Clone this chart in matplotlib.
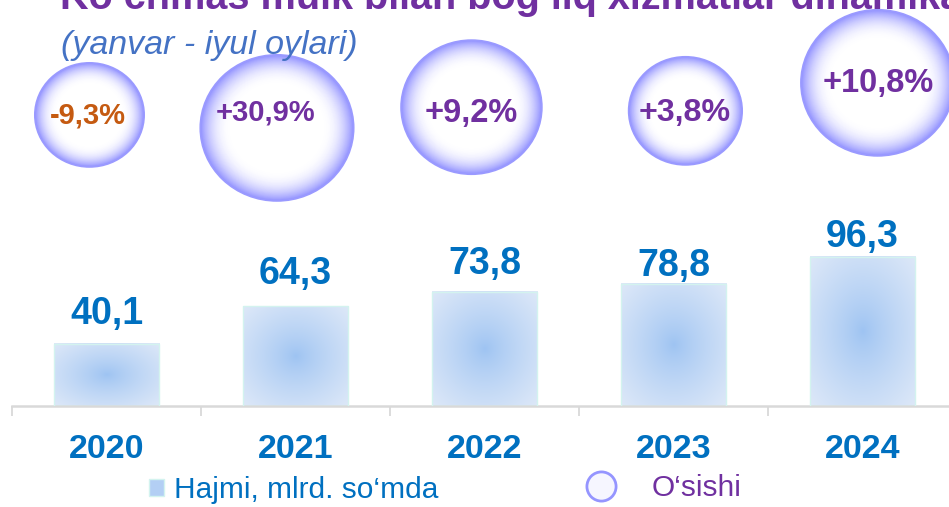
import numpy as np
import matplotlib
matplotlib.use('Agg')
import matplotlib.pyplot as plt
import matplotlib.transforms as mtransforms
from matplotlib.patches import Ellipse, Patch
from matplotlib.lines import Line2D

plt.rcParams['font.family'] = ['Liberation Sans', 'DejaVu Sans']

years = ['2020', '2021', '2022', '2023', '2024']
volume = [40.1, 64.3, 73.8, 78.8, 96.3]     # mlrd. so'm
growth = [-9.3, 30.9, 9.2, 3.8, 10.8]       # %

# value label gap above bar (points), labels were placed by hand in the original
value_gap = [14.4, 15.8, 13.0, 5.8, 7.2]

# bubble layout (height as axes fraction, x shift in category units, radius in px)
bubble_y = [0.717, 0.685, 0.736, 0.727, 0.796]
bubble_dx = [-0.09, -0.098, -0.069, 0.063, 0.08]
bubble_r = [52, 73, 67, 54, 73]
label_fs = [21, 21, 23.5, 23.2, 23.5]
label_off = [(-1.5, -0.7), (-8, 11), (0, -4.3), (-0.7, -1.4), (0.7, -0.7)]

blue = '#0070C0'
purple = '#7030A0'
orange = '#C55A11'

fig = plt.figure(figsize=(9.49, 5.07), dpi=100)
ax = fig.add_axes([12/949, 101/507, 945/949, 406/507])
x = np.arange(len(years))

# bars with radial gradient
bars = ax.bar(x, volume, width=0.556, color='none', edgecolor='#D3F3EF', lw=1, zorder=3)
c_in = np.array([157, 195, 242]) / 255
c_out = np.array([221, 232, 248]) / 255
gx, gy = np.meshgrid(np.linspace(-1, 1, 80), np.linspace(-1, 1, 80))
d = np.sqrt(gx**2 + gy**2) / np.sqrt(2)
img = c_in + (c_out - c_in) * d[..., None]**0.8
for b in bars:
    ax.imshow(img, extent=[b.get_x(), b.get_x() + b.get_width(), 0, b.get_height()],
              aspect='auto', origin='lower', zorder=2, interpolation='bilinear')

for i, v in enumerate(volume):
    ax.annotate(f'{v:.1f}'.replace('.', ','), (i, v), xytext=(0, value_gap[i]),
                textcoords='offset points', ha='center', va='baseline',
                fontsize=27, fontweight='bold', color=blue)

ax.set_xlim(-0.5, 4.5)
ax.set_ylim(0, 262)
for s in ['top', 'left', 'right']:
    ax.spines[s].set_visible(False)
ax.spines['bottom'].set_color('#D9D9D9')
ax.spines['bottom'].set_linewidth(1.8)
ax.set_yticks([])
ax.set_xticks(x)
ax.set_xticklabels(years, fontsize=24.5, fontweight='bold', color=blue)
ax.set_xticks(np.arange(-0.5, 5, 1), minor=True)
ax.tick_params(axis='x', which='major', length=0, pad=20.5)
ax.tick_params(axis='x', which='minor', length=7.5, width=1.3, color='#D9D9D9')
ax.patch.set_alpha(0)

# bubbles
bax = ax.twinx()
bax.set_ylim(0, 1)
bax.set_yticks([])
for s in bax.spines.values():
    s.set_visible(False)
bax.patch.set_alpha(0)

edge = np.array([0.58, 0.58, 1.0])
for i, g in enumerate(growth):
    bx = i + bubble_dx[i]
    by = bubble_y[i]
    r = bubble_r[i] / 100
    trans = fig.dpi_scale_trans + mtransforms.ScaledTranslation(bx, by, bax.transData)
    for t in np.linspace(1, 0.5, 45):
        f = np.clip((t - 0.6) / 0.4, 0, 1) ** 2.2
        col = 1 - (1 - edge) * f
        bax.add_patch(Ellipse((0, 0), 2 * r * 1.05 * t, 2 * r * t, transform=trans,
                              fc=col, ec='none', clip_on=False, zorder=4))
    bax.add_patch(Ellipse((0, 0), 2 * r * 1.05, 2 * r, transform=trans, fc='none',
                          ec='#9A9AFF', lw=1.3, clip_on=False, zorder=5))
    txt = f'{g:+.1f}%'.replace('.', ',')
    bax.annotate(txt, (bx, by), xytext=label_off[i], textcoords='offset points',
                 ha='center', va='center', fontsize=label_fs[i], fontweight='bold',
                 color=orange if g < 0 else purple, zorder=6, annotation_clip=False)

# titles
fig.text(60/949, (507 - 9)/507, 'Ko‘chmas mulk bilan bog‘liq xizmatlar dinamikasi',
         fontsize=28.5, fontweight='bold', color=purple, va='baseline', ha='left')
fig.text(61/949, (507 - 54)/507, '(yanvar - iyul oylari)', fontsize=24.5, style='italic',
         color='#4472C4', va='baseline', ha='left')

# legend
leg1 = fig.legend(handles=[Patch(facecolor='#B3CFF4', edgecolor='#D3F3EF')],
                  labels=['Hajmi, mlrd. so‘mda'], loc='center left',
                  bbox_to_anchor=(149/949, 17/507), frameon=False, fontsize=21.5,
                  handlelength=0.5, handleheight=0.5, handletextpad=0.33,
                  borderpad=0, borderaxespad=0)
for t in leg1.get_texts():
    t.set_color(blue)
leg2 = fig.legend(handles=[Line2D([], [], ls='none', marker='o', ms=21, mfc='#F6F6FF',
                                  mec='#9595FF', mew=2)],
                  labels=['O‘sishi'], loc='center left',
                  bbox_to_anchor=(579/949, 19/507), frameon=False, fontsize=21.5,
                  handlelength=1.5, handletextpad=0.94, borderpad=0, borderaxespad=0)
for t in leg2.get_texts():
    t.set_color(purple)

fig.savefig('out.png', dpi=100)
